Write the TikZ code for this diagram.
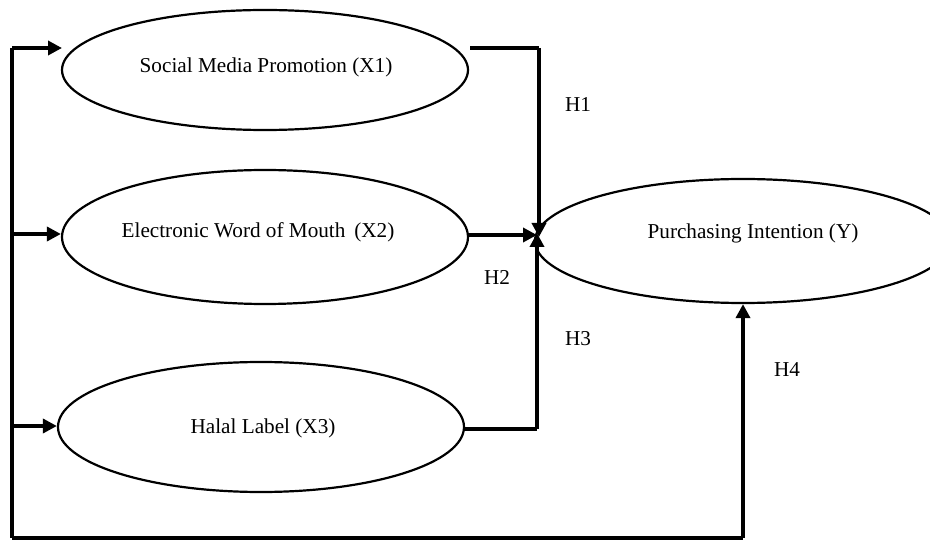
\documentclass[tikz,border=0pt]{standalone}
\usepackage{fontspec}
\setmainfont{Liberation Serif}
\usetikzlibrary{shapes.geometric,arrows.meta}
\begin{document}
\begin{tikzpicture}[x=1pt,y=-1pt,
  var/.style={ellipse,draw,line width=2.2pt,inner sep=0pt},
  txt/.style={font=\fontsize{21.2}{25}\selectfont,inner sep=0pt},
  conn/.style={line width=4pt},
  arr/.style={conn,-{Triangle[length=14pt,width=14pt]}},
  hyp/.style={font=\fontsize{21.2}{25}\selectfont}]
\useasboundingbox (0,0) rectangle (930,540);
\node[var,minimum width=406pt,minimum height=120pt] (x1) at (265,70) {};
\node[var,minimum width=406pt,minimum height=134pt] (x2) at (265,237) {};
\node[var,minimum width=406pt,minimum height=130pt] (x3) at (261,427) {};
\node[var,minimum width=416pt,minimum height=124pt] (y) at (743,241) {};
\node[txt] (t1) at (266,67) {Social Media Promotion (X1)};
\node[txt] (t2) at (258,232) {Electronic Word of Mouth\, (X2)};
\node[txt] (t3) at (263,428) {Halal Label (X3)};
\node[txt] (ty) at (753,233) {Purchasing Intention (Y)};
\coordinate (j) at (537,235);
\coordinate (tl) at (12,48);
\coordinate (ml) at (12,234);
\coordinate (ll) at (12,426);
\coordinate (bl) at (12,538);
\coordinate (br) at (743,538);
\coordinate (a1) at (62,48);
\coordinate (s1) at (470,48);
\coordinate (c1) at (539,48);
\coordinate (c3) at (537,429);
% left feed line
\draw[conn] (bl) -- (tl);
\draw[arr] (tl) -- (a1);
\draw[arr] (ml) -- (ml -| x2.west);
\draw[arr] (ll) -- (ll -| x3.west);
% H1
\draw[conn] (s1) -- (c1);
\draw[arr] (c1) -- (539,237);
% H2
\draw[arr] (x2.east |- j) -- (j);
% H3
\draw[conn] (x3.east |- c3) -- (c3);
\draw[arr] (c3) -- (537,233);
% H4
\draw[conn] (bl) -- (br);
\draw[arr] (br) -- (y.south);
\node[hyp] (h1) at (578,105) {H1};
\node[hyp] (h2) at (497,277) {H2};
\node[hyp] (h3) at (578,339) {H3};
\node[hyp] (h4) at (787,370) {H4};
\end{tikzpicture}
\end{document}
